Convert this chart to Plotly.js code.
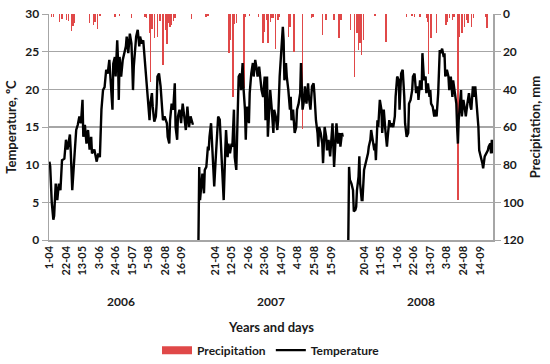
<!DOCTYPE html>
<html>
<head>
<meta charset="utf-8">
<script src="https://cdn.plot.ly/plotly-3.0.1.min.js"></script>
<style>html,body{margin:0;padding:0;background:#fff;}#chart{width:550px;height:364px;}</style>
</head>
<body>
<div id="chart"></div>
<script>
// ---- data (days counted from 1 April of each season) ----
const years = ['2006', '2007', '2008'];
const seasonLength = 183;   // 1-04 .. 30-09
const gapLength = 7;        // empty categories between seasons

const tickDays2006 = [0, 21, 42, 63, 84, 105, 126, 147, 168];
const tickText2006 = ['1-04', '22-04', '13-05', '3-06', '24-06', '15-07', '5-08', '26-08', '16-09'];
const tickDays2007 = [20, 41, 62, 83, 104, 125, 146, 167];
const tickText2007 = ['21-04', '12-05', '2-06', '23-06', '14-07', '4-08', '25-08', '15-09'];
const tickDays2008 = [19, 40, 61, 82, 103, 124, 145, 166];
const tickText2008 = ['20-04', '11-05', '1-06', '22-06', '13-07', '3-08', '24-08', '14-09'];

const t2006Day = [0,1,3,5,6,8,10,12,14,16,19,21,23,26,27,29,32,34,36,38,40,42,43,45,47,49,51,53,54,57,60,62,64,65,66,68,70,72,74,76,78,80,81,83,84,86,87,88,89,91,93,95,97,98,100,102,104,105,106,107,109,110,112,114,115,117,119,120,122,124,125,127,128,130,131,133,135,136,137,139,141,143,144,146,149,150,152,153,155,157,159,160,162,163,165,167,169,171,173,175,176,177,179,181,182];
const t2006Temp = [10.4,9.8,5.0,2.7,3.2,7.5,5.3,7.5,6.6,10.6,10.8,13.3,12.0,14.0,12.0,6.6,11.5,14.6,15.3,16.4,15.5,18.6,13.7,15.3,12.8,14.6,12.0,13.7,11.5,12.0,10.4,11.5,11.0,15.5,17.3,19.9,20.3,22.6,22.1,23.9,19.9,17.3,23.4,24.3,21.7,26.5,23.9,18.6,24.3,21.7,23.9,24.8,25.7,27.0,24.8,27.4,26.1,23.5,19.9,23.0,25.7,27.0,27.9,25.7,27.0,26.1,26.5,25.2,22.6,20.8,18.6,15.9,18.1,19.5,17.7,15.7,16.4,18.1,21.7,22.1,20.4,17.3,15.9,16.4,15.5,13.7,12.8,15.9,18.1,17.3,20.8,15.0,13.3,16.4,17.3,15.5,18.1,16.4,14.6,17.7,16.4,15.0,16.4,15.5,15.3];

const t2007Day = [-1,0,1,2,4,6,7,9,11,12,13,15,16,18,19,21,23,24,26,28,30,31,33,34,36,37,39,41,42,44,45,47,48,49,50,52,53,55,56,58,59,60,61,63,64,66,68,69,71,73,74,76,78,79,81,83,84,86,87,89,90,92,94,95,97,99,100,102,104,106,107,108,110,111,113,115,116,117,119,121,123,124,126,128,129,130,131,133,134,136,138,139,141,143,145,146,148,150,151,152,154,156,157,159,161,162,164,166,168,169,171,173,174,176,178,179,181,182];
const t2007Temp = [0,9.7,5.3,6.6,8.8,6.2,9.3,9.7,12.4,11.9,13.7,15.5,12.8,9.3,7.1,11.0,15.0,16.4,16.0,11.9,8.4,5.3,11.9,14.6,11.0,12.8,11.5,12.8,12.4,17.3,11.0,9.3,13.7,19.0,21.7,22.1,19.9,23.5,20.4,17.3,13.3,16.8,17.7,15.5,19.5,22.1,23.5,21.7,23.9,22.6,21.7,23.0,20.4,19.9,19.0,21.7,15.9,21.7,13.7,17.3,19.9,17.3,14.2,17.3,16.4,14.6,15.9,21.7,25.2,28.3,26.5,21.2,23.5,21.7,19.9,17.3,19.0,15.9,17.3,14.2,15.0,17.3,18.1,19.5,23.5,19.9,17.3,18.6,20.4,18.1,20.8,19.0,17.3,20.4,20.8,19.5,15.9,14.2,12.4,15.0,14.2,12.8,10.2,15.0,13.7,11.9,13.3,11.1,13.7,15.5,9.7,12.8,15.5,12.8,14.2,12.4,14.2,13.7];

const t2008Day = [-1,0,1,3,5,6,8,9,10,12,13,14,16,17,19,21,22,24,25,27,28,30,32,33,34,36,37,39,41,42,44,46,48,49,51,53,54,56,58,59,61,63,64,66,68,70,71,73,75,76,78,80,81,83,85,87,88,90,92,93,95,97,98,100,102,103,104,106,108,109,111,113,115,116,118,120,121,122,124,126,127,129,131,132,134,136,137,138,139,140,142,143,145,147,148,150,152,154,155,157,159,160,162,164,165,167,169,170,172,174,176,177,179,180,181,182];
const t2008Temp = [0,9.7,8.0,7.5,6.6,3.8,4.0,4.4,6.6,8.4,11.1,7.5,5.3,5.3,9.3,10.2,10.6,11.5,12.4,13.3,14.6,13.3,11.9,12.8,10.6,15.9,15.0,18.6,17.3,14.2,17.3,14.6,12.4,13.7,15.9,15.0,15.5,15.0,16.4,19.0,21.7,21.2,17.3,22.1,22.6,19.0,15.5,13.7,14.2,18.1,18.6,19.9,21.7,22.1,19.5,20.4,18.6,21.2,19.9,24.8,21.2,21.7,19.5,20.8,19.0,19.9,18.1,17.7,16.4,17.3,16.4,19.5,25.2,24.8,25.4,24.3,24.8,21.7,22.6,21.7,19.9,21.7,19.0,21.2,19.5,18.1,15.0,12.8,15.9,17.7,19.9,16.4,18.6,17.3,16.4,18.1,19.5,17.7,17.3,20.4,19.0,20.4,17.3,15.0,11.9,11.1,10.2,9.5,11.1,11.5,11.9,12.4,12.8,11.5,13.3,11.5];

const p2006Day = [3,5,13,16,22,24,28,30,31,51,56,58,61,64,83,89,104,121,123,127,128,130,133,137,140,144,147,149,151,153,155,157,159,160,180];
const p2006mm = [1.8,1.4,4.0,2.8,3.2,3.5,8.8,6.6,4.9,5.0,5.8,4.1,8.1,1.1,1.4,1.1,2.3,1.4,2.3,10,36,8,13,12,3.5,27,8.5,16,5,7,6,3.5,2,2,2.8];
const p2007Day = [8,9,11,38,40,42,43,45,47,57,58,64,75,81,83,85,87,88,90,92,94,97,100,102,113,115,120,131,142,144,156,160,161,171,177,180];
const p2007mm = [1.5,1.8,0.8,20.9,13.8,10.3,43.9,5.3,4.9,39.5,1.4,0.8,1.4,15.6,9.4,3.2,15.6,11.1,4.1,2.3,2.3,18.7,3.2,1.4,12.1,6.7,20,61,2.3,1.4,11.1,2.3,3.2,3.2,12.9,3.2];
const p2008Day = [2,7,10,12,14,16,18,33,47,73,80,83,90,98,100,101,104,111,123,125,127,131,133,138,140,143,146,149,151,155,158,173,175];
const p2008mm = [8.5,33.3,10.3,19.1,15.6,21.8,13.8,0.8,14.7,1.4,0.8,1.4,1.4,2.3,4.1,32,12.6,10.3,5.8,4.1,2.3,3.2,1.4,98.8,12,10.3,6.7,3.2,4.9,6.7,2.3,1.4,7.5];

// ---- build ----
const offsets = years.map((_, i) => i * (seasonLength + gapLength));
const tDays = [t2006Day, t2007Day, t2008Day];
const tVals = [t2006Temp, t2007Temp, t2008Temp];
const pDays = [p2006Day, p2007Day, p2008Day];
const pVals = [p2006mm, p2007mm, p2008mm];
const tickDays = [tickDays2006, tickDays2007, tickDays2008];
const tickTexts = [tickText2006, tickText2007, tickText2008];

let tx = [], ty = [];
tDays.forEach((days, i) => {
  if (i > 0) { tx.push(null); ty.push(null); }
  days.forEach((d, k) => { tx.push(offsets[i] + d); ty.push(tVals[i][k]); });
});
let px = [], py = [];
pDays.forEach((days, i) => days.forEach((d, k) => { px.push(offsets[i] + d); py.push(pVals[i][k]); }));
let tickvals = [], ticktext = [];
tickDays.forEach((days, i) => days.forEach((d, k) => { tickvals.push(offsets[i] + d); ticktext.push(tickTexts[i][k]); }));

const RED = '#e04848';
const FONT = 'Lato, "Open Sans", sans-serif';
const GRID = '#a6a6a6';
const TXT = '#1a1a1a';

const traces = [
  { type: 'bar', x: px, y: py, yaxis: 'y', width: 1.8, marker: { color: RED, line: { width: 0 } },
    name: 'Precipitation', showlegend: false, hoverinfo: 'skip' },
  { type: 'scatter', mode: 'lines', x: [null], y: [null], yaxis: 'y', name: 'Precipitation',
    line: { color: RED, width: 8 }, showlegend: true },
  { type: 'scatter', mode: 'lines', x: tx, y: ty, yaxis: 'y2', name: 'Temperature',
    line: { color: '#000', width: 2.4 }, connectgaps: false }
];

const total = offsets[2] + seasonLength;
const annotations = years.map((yr, i) => ({
  x: offsets[i] + (seasonLength - 1) / 2, xref: 'x', y: -0.274, yref: 'paper',
  text: yr, showarrow: false, yanchor: 'middle', font: { family: FONT, size: 12, weight: 700, color: TXT }
}));
annotations.push({ x: 0.5, xref: 'paper', y: -0.385, yref: 'paper', text: 'Years and days', showarrow: false,
  yanchor: 'middle', font: { family: FONT, size: 13, weight: 700, color: TXT } });

const layout = {
  width: 550, height: 364,
  margin: { l: 49, r: 57, t: 14, b: 124, autoexpand: false },
  paper_bgcolor: '#fff', plot_bgcolor: '#fff',
  font: { family: FONT, size: 12, weight: 700, color: TXT },
  showlegend: true,
  legend: { orientation: 'h', x: 0.5, xanchor: 'center', yref: 'container', y: 0.038, yanchor: 'middle',
    font: { family: FONT, size: 12, weight: 700, color: TXT }, bgcolor: 'rgba(0,0,0,0)' },
  bargap: 0,
  xaxis: { type: 'linear', range: [-0.5, total - 0.5], tickmode: 'array', tickvals: tickvals, ticktext: ticktext,
    tickangle: -90, ticks: '', showgrid: false, zeroline: false, showline: true, linecolor: GRID, linewidth: 1.5,
    automargin: false, tickfont: { family: FONT, size: 11, weight: 700, color: TXT } },
  yaxis: { range: [120, 0], side: 'right', dtick: 20, tick0: 0, showgrid: true, gridcolor: GRID, gridwidth: 1.3,
    zeroline: false, showline: true, linecolor: GRID, linewidth: 1.5, ticks: 'outside', ticklen: 6, tickcolor: GRID,
    automargin: false, tickfont: { family: FONT, size: 12, weight: 700, color: TXT },
    title: { text: 'Precipitation, mm', standoff: 8, font: { family: FONT, size: 13, weight: 700, color: TXT } } },
  yaxis2: { range: [0, 30], side: 'left', overlaying: 'y', dtick: 5, tick0: 0, showgrid: false, zeroline: false,
    showline: true, linecolor: GRID, linewidth: 1.5, ticks: 'outside', ticklen: 6, tickcolor: GRID,
    automargin: false, tickfont: { family: FONT, size: 12, weight: 700, color: TXT },
    title: { text: 'Temperature, ºC', standoff: 5, font: { family: FONT, size: 13, weight: 700, color: TXT } } },
  annotations: annotations
};

Plotly.newPlot('chart', traces, layout, { displayModeBar: false, staticPlot: true });
</script>
</body>
</html>
